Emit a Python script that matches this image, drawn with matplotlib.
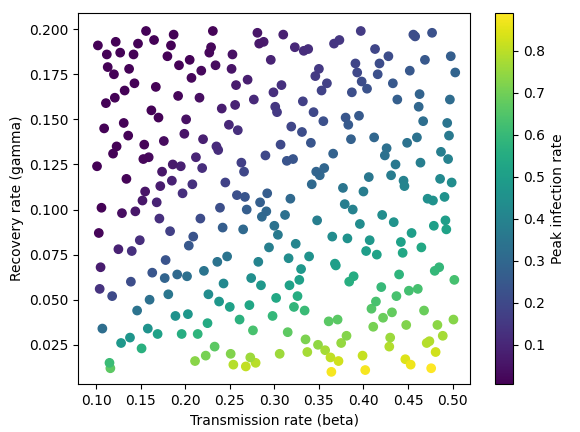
import numpy as np
import matplotlib
matplotlib.use("Agg")
import matplotlib.pyplot as plt

beta = [0.102,0.118,0.134,0.151,0.167,0.183,0.199,0.214,0.231,0.247,0.263,0.279,0.296,0.312,0.328,0.344,0.361,0.377,0.393,0.409,0.426,0.442,0.458,0.474,0.491,
0.109,0.125,0.142,0.158,0.174,0.191,0.207,0.223,0.239,0.256,0.272,0.288,0.304,0.321,0.337,0.353,0.369,0.386,0.402,0.418,0.434,0.451,0.467,0.483,0.499,
0.105,0.121,0.138,0.154,0.171,0.187,0.203,0.219,0.236,0.252,0.268,0.284,0.301,0.317,0.333,0.349,0.366,0.382,0.398,0.414,0.431,0.447,0.463,0.479,0.496,
0.113,0.129,0.146,0.162,0.178,0.195,0.211,0.227,0.243,0.259,0.276,0.292,0.308,0.324,0.341,0.357,0.373,0.389,0.406,0.422,0.438,0.454,0.471,0.487,0.503,
0.101,0.116,0.132,0.149,0.165,0.181,0.197,0.216,0.233,0.249,0.265,0.281,0.298,0.314,0.330,0.346,0.363,0.379,0.395,0.411,0.428,0.444,0.460,0.476,0.493,
0.107,0.123,0.140,0.156,0.172,0.189,0.205,0.221,0.237,0.254,0.270,0.286,0.302,0.319,0.335,0.351,0.367,0.384,0.400,0.416,0.432,0.449,0.465,0.481,0.497,
0.111,0.127,0.144,0.160,0.176,0.193,0.209,0.225,0.241,0.258,0.274,0.290,0.306,0.323,0.339,0.355,0.371,0.388,0.404,0.420,0.436,0.453,0.469,0.485,0.501,
0.103,0.120,0.136,0.152,0.169,0.185,0.201,0.217,0.234,0.250,0.266,0.282,0.299,0.315,0.331,0.348,0.364,0.380,0.396,0.413,0.429,0.445,0.461,0.478,0.494,
0.115,0.131,0.147,0.163,0.180,0.196,0.212,0.229,0.245,0.261,0.277,0.294,0.310,0.326,0.342,0.359,0.375,0.391,0.407,0.424,0.440,0.456,0.472,0.489,0.498,
0.106,0.122,0.139,0.155,0.170,0.186,0.204,0.220,0.238,0.253,0.269,0.285,0.303,0.318,0.334,0.350,0.368,0.383,0.399,0.415,0.433,0.448,0.464,0.480,0.495,
0.112,0.128,0.143,0.159,0.177,0.192,0.208,0.226,0.242,0.257,0.273,0.291,0.307,0.322,0.338,0.356,0.372,0.387,0.403,0.421,0.437,0.452,0.468,0.486,0.502,
0.104,0.119,0.137,0.153,0.168,0.184,0.202,0.218,0.235,0.251,0.267,0.283,0.300,0.316,0.332,0.347,0.365,0.381,0.397,0.412,0.430,0.446,0.462,0.477,0.492]
gamma = [0.191,0.052,0.117,0.023,0.168,0.088,0.142,0.031,0.199,0.074,0.126,0.015,0.183,0.097,0.061,0.154,0.038,0.112,0.176,0.045,0.134,0.082,0.196,0.027,0.107,
0.145,0.078,0.186,0.034,0.121,0.064,0.173,0.019,0.101,0.158,0.047,0.193,0.086,0.128,0.021,0.166,0.069,0.139,0.011,0.181,0.093,0.055,0.149,0.036,0.115,
0.068,0.162,0.029,0.136,0.095,0.197,0.042,0.123,0.071,0.178,0.013,0.104,0.157,0.058,0.188,0.025,0.131,0.084,0.171,0.049,0.119,0.017,0.164,0.091,0.141,
0.179,0.098,0.044,0.155,0.072,0.124,0.016,0.187,0.059,0.144,0.033,0.109,0.169,0.081,0.137,0.022,0.194,0.063,0.118,0.040,0.161,0.087,0.026,0.132,0.176,
0.124,0.012,0.166,0.083,0.194,0.053,0.109,0.162,0.024,0.147,0.089,0.198,0.041,0.127,0.067,0.174,0.018,0.103,0.152,0.035,0.185,0.076,0.140,0.012,0.089,
0.034,0.135,0.077,0.199,0.113,0.041,0.183,0.066,0.133,0.014,0.172,0.096,0.051,0.146,0.028,0.119,0.192,0.060,0.110,0.175,0.043,0.137,0.079,0.021,0.161,
0.159,0.187,0.099,0.050,0.138,0.180,0.085,0.037,0.156,0.108,0.062,0.130,0.020,0.190,0.074,0.149,0.039,0.100,0.167,0.057,0.125,0.014,0.183,0.068,0.039,
0.087,0.175,0.141,0.105,0.031,0.116,0.150,0.095,0.180,0.046,0.121,0.071,0.165,0.032,0.143,0.094,0.010,0.151,0.092,0.189,0.024,0.116,0.056,0.105,0.148,
0.015,0.148,0.192,0.065,0.185,0.031,0.129,0.190,0.115,0.039,0.161,0.079,0.197,0.052,0.114,0.170,0.026,0.181,0.083,0.130,0.064,0.197,0.106,0.030,0.185,
0.101,0.193,0.060,0.110,0.151,0.125,0.080,0.139,0.049,0.186,0.100,0.058,0.154,0.106,0.044,0.178,0.070,0.147,0.019,0.075,0.170,0.036,0.126,0.066,0.128,
0.186,0.026,0.170,0.129,0.062,0.163,0.114,0.053,0.090,0.169,0.018,0.099,0.136,0.046,0.189,0.123,0.016,0.165,0.077,0.097,0.052,0.177,0.044,0.117,0.061,
0.056,0.131,0.178,0.128,0.104,0.191,0.063,0.177,0.135,0.020,0.107,0.192,0.091,0.073,0.160,0.121,0.085,0.030,0.199,0.140,0.029,0.113,0.157,0.198,0.094]

b = np.array(beta); g = np.array(gamma)
R0 = b / g
i0 = 0.01
with np.errstate(divide="ignore", invalid="ignore"):
    peak = np.where(R0 > 1, 1 - (1 + np.log(R0)) / R0 + i0 * 0.5, i0)
peak = np.clip(peak, i0, None)

fig, ax = plt.subplots(figsize=(5.8, 4.32), dpi=100)
sc = ax.scatter(b, g, c=peak, cmap="viridis", vmin=0.005, vmax=0.89)
ax.set_xlabel("Transmission rate (beta)")
ax.set_ylabel("Recovery rate (gamma)")
ax.set_xlim(0.08, 0.52)
ax.set_ylim(0.003, 0.209)
cb = fig.colorbar(sc, ax=ax)
cb.set_label("Peak infection rate")
fig.subplots_adjust(left=0.135, right=0.98, bottom=0.11, top=0.97)
fig.savefig("out.png")
